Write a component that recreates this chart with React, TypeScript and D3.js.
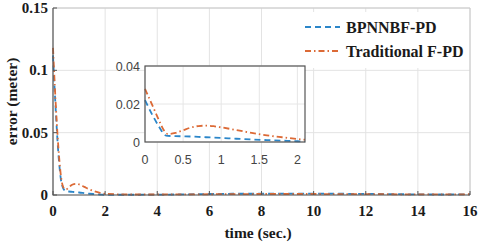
import { useEffect, useRef } from "react";
import * as d3 from "d3";

// main plot data (time in s, error in m)
const mainTime = [0, 0.1, 0.2, 0.3, 0.4, 0.5, 0.6, 0.7, 0.8, 0.9, 1.0, 1.2, 1.4, 1.6, 1.8, 2.0, 3, 4, 5, 6, 7, 8, 9, 10, 11, 12, 13, 14, 15, 16];
const mainBp = [0.112, 0.07, 0.035, 0.013, 0.005, 0.003, 0.0028, 0.0026, 0.0024, 0.0022, 0.002, 0.0015, 0.001, 0.0007, 0.0004, 0.0002, 0.0002, 0.0003, 0.0005, 0.0008, 0.001, 0.001, 0.0011, 0.0011, 0.001, 0.0009, 0.0007, 0.0005, 0.0004, 0.0006];
const mainFpd = [0.118, 0.075, 0.04, 0.016, 0.006, 0.0045, 0.006, 0.0078, 0.0088, 0.009, 0.0085, 0.0065, 0.0045, 0.003, 0.0018, 0.001, 0.0004, 0.0004, 0.0005, 0.0006, 0.0007, 0.0008, 0.0008, 0.0008, 0.0007, 0.0007, 0.0006, 0.0005, 0.0005, 0.0006];

// inset data
const insetTime = [0, 0.1, 0.2, 0.25, 0.3, 0.4, 0.5, 0.6, 0.7, 0.8, 0.9, 1.0, 1.2, 1.4, 1.6, 1.8, 2.0, 2.1];
const insetBp = [0.022, 0.014, 0.007, 0.004, 0.0032, 0.0031, 0.003, 0.0029, 0.0027, 0.0025, 0.0023, 0.0021, 0.0017, 0.0013, 0.001, 0.0007, 0.0004, 0.0003];
const insetFpd = [0.028, 0.019, 0.01, 0.006, 0.0042, 0.0048, 0.0062, 0.0076, 0.0084, 0.0086, 0.0083, 0.0077, 0.0063, 0.0048, 0.0035, 0.0025, 0.0016, 0.0012];

const mainXTicks = [0, 2, 4, 6, 8, 10, 12, 14, 16];
const mainYTicks = [0, 0.05, 0.1, 0.15];
const insetXTicks = [0, 0.5, 1, 1.5, 2];
const insetYTicks = [0, 0.02, 0.04];

const seriesLabels = ["BPNNBF-PD", "Traditional F-PD"];
const BLUE = "#2b86c9";
const ORANGE = "#dc6a36";
const DASH = ["6,4", "6,3,1.5,3"];
const W = 480;
const H = 248;
const SERIF = '"Liberation Serif", "DejaVu Serif", Times, serif';
const SANS = '"Liberation Sans", Arial, sans-serif';

export default function App() {
  const svgRef = useRef<SVGSVGElement>(null);

  useEffect(() => {
    const svg = d3.select(svgRef.current);
    svg.selectAll("*").remove();
    svg.append("rect").attr("width", W).attr("height", H).attr("fill", "#fff");

    const x = d3.scaleLinear().domain([0, 16]).range([53, 470]);
    const y = d3.scaleLinear().domain([0, 0.15]).range([195, 8]);

    // serif bold text helper
    const serifText = (px: number, py: number, anchor: string, size: number, s: string) =>
      svg.append("text").attr("x", px).attr("y", py).attr("text-anchor", anchor)
        .style("font-family", SERIF).style("font-weight", "bold").style("font-size", `${size}px`)
        .attr("fill", "#1a1a1a").text(s);

    // grid
    mainXTicks.forEach((t) => {
      svg.append("line").attr("x1", x(t)).attr("x2", x(t)).attr("y1", y(0.15)).attr("y2", y(0))
        .attr("stroke", "#e3e3e3").attr("stroke-width", 1);
    });
    mainYTicks.forEach((t) => {
      svg.append("line").attr("x1", x(0)).attr("x2", x(16)).attr("y1", y(t)).attr("y2", y(t))
        .attr("stroke", "#e3e3e3").attr("stroke-width", 1);
    });
    // box top/right
    svg.append("path")
      .attr("d", `M${x(0)},${y(0.15)}H${x(16)}V${y(0)}`)
      .attr("fill", "none").attr("stroke", "#c8c8c8").attr("stroke-width", 1);

    const drawSeries = (
      g: d3.Selection<any, unknown, null, undefined>,
      xs: number[], ys: number[], sx: d3.ScaleLinear<number, number>, sy: d3.ScaleLinear<number, number>,
      color: string, dash: string
    ) => {
      const line = d3.line<number>().x((_, i) => sx(xs[i])).y((d) => sy(d)).curve(d3.curveMonotoneX);
      g.append("path").datum(ys).attr("d", line).attr("fill", "none")
        .attr("stroke", color).attr("stroke-width", 1.8).attr("stroke-dasharray", dash);
    };

    drawSeries(svg, mainTime, mainBp, x, y, BLUE, DASH[0]);
    drawSeries(svg, mainTime, mainFpd, x, y, ORANGE, DASH[1]);

    // axes (left + bottom)
    svg.append("path")
      .attr("d", `M${x(0)},${y(0.15)}V${y(0)}H${x(16)}`)
      .attr("fill", "none").attr("stroke", "#555").attr("stroke-width", 1.2);
    mainXTicks.forEach((t) => {
      svg.append("line").attr("x1", x(t)).attr("x2", x(t)).attr("y1", y(0)).attr("y2", y(0) - 4)
        .attr("stroke", "#555");
      serifText(x(t), 216, "middle", 15, String(t));
    });
    mainYTicks.forEach((t) => {
      svg.append("line").attr("x1", x(0)).attr("x2", x(0) + 4).attr("y1", y(t)).attr("y2", y(t))
        .attr("stroke", "#555");
      serifText(48, y(t) + 5, "end", 15, String(t));
    });

    // axis labels
    serifText(258, 238, "middle", 15.5, "time (sec.)");
    serifText(0, 0, "middle", 15.5, "error (meter)")
      .attr("transform", `translate(17,${y(0.075)}) rotate(-90)`);

    // legend
    svg.append("rect").attr("x", 300).attr("y", 12).attr("width", 168).attr("height", 56).attr("fill", "#fff");
    [BLUE, ORANGE].forEach((c, i) => {
      const ly = 27 + i * 24;
      svg.append("line").attr("x1", 305).attr("x2", 340).attr("y1", ly).attr("y2", ly)
        .attr("stroke", c).attr("stroke-width", 1.8).attr("stroke-dasharray", DASH[i]);
      serifText(346, ly + 6, "start", 16, seriesLabels[i]);
    });

    // inset
    const ix = d3.scaleLinear().domain([0, 2.1]).range([145, 305]);
    const iy = d3.scaleLinear().domain([0, 0.04]).range([142, 66]);
    svg.append("rect").attr("x", ix(0)).attr("y", iy(0.04)).attr("width", ix(2.1) - ix(0))
      .attr("height", iy(0) - iy(0.04)).attr("fill", "#fff");
    insetXTicks.forEach((t) => {
      svg.append("line").attr("x1", ix(t)).attr("x2", ix(t)).attr("y1", iy(0.04)).attr("y2", iy(0))
        .attr("stroke", "#e6e6e6");
      svg.append("text").attr("x", ix(t)).attr("y", 164).attr("text-anchor", "middle")
        .style("font-family", SANS).style("font-size", "12.5px").attr("fill", "#444").text(String(t));
    });
    insetYTicks.forEach((t) => {
      svg.append("line").attr("x1", ix(0)).attr("x2", ix(2.1)).attr("y1", iy(t)).attr("y2", iy(t))
        .attr("stroke", "#e6e6e6");
      svg.append("text").attr("x", 140).attr("y", iy(t) + 4.5).attr("text-anchor", "end")
        .style("font-family", SANS).style("font-size", "12.5px").attr("fill", "#444").text(String(t));
    });
    const ig = svg.append("g");
    drawSeries(ig, insetTime, insetBp, ix, iy, BLUE, DASH[0]);
    drawSeries(ig, insetTime, insetFpd, ix, iy, ORANGE, DASH[1]);
    svg.append("rect").attr("x", ix(0)).attr("y", iy(0.04)).attr("width", ix(2.1) - ix(0))
      .attr("height", iy(0) - iy(0.04)).attr("fill", "none").attr("stroke", "#555").attr("stroke-width", 1.2);
  }, []);

  return (
    <svg ref={svgRef} width={W} height={H} style={{ position: "absolute", left: 0, top: 0 }} />
  );
}
